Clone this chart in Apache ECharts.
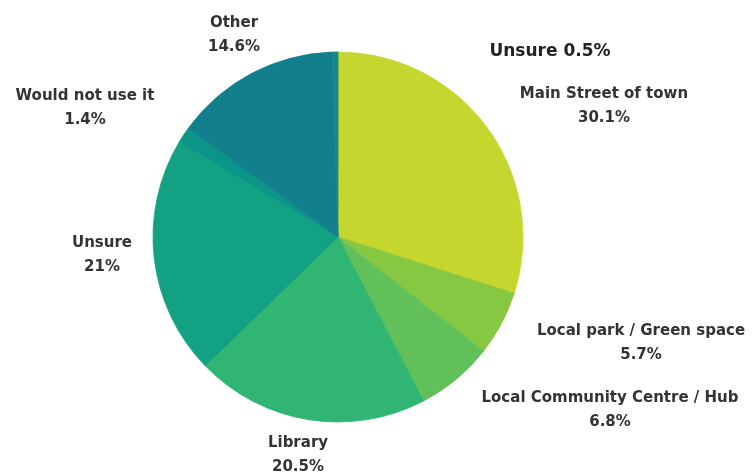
<!DOCTYPE html>
<html>
<head>
<meta charset="utf-8">
<style>
  html, body { margin: 0; padding: 0; background: #ffffff; }
  #chart { width: 752px; height: 475px; }
</style>
<script src="https://cdn.jsdelivr.net/npm/echarts@6/dist/echarts.min.js"></script>
</head>
<body>
<div id="chart"></div>
<script>
// Where people would use it – share of responses (%)
const categories = [
  'Main Street of town',
  'Local park / Green space',
  'Local Community Centre / Hub',
  'Library',
  'Unsure',
  'Would not use it',
  'Other',
  'Unsure'
];
const shares = [30.1, 5.7, 6.8, 20.5, 21, 1.4, 14.6, 0.5];

const sliceColors = [
  '#c5d62f', '#87c843', '#62c05b', '#30b573',
  '#12a182', '#0b9589', '#117f8c', '#15898b'
];

// label centres (px) for each slice, in slice order
const labelSpots = [
  [604, 106], [641, 343], [610, 410], [298, 455],
  [102, 255], [85, 108], [234, 35], [550, 52]
];

const chart = echarts.init(document.getElementById('chart'), null, { renderer: 'canvas' });

const data = categories.map((name, i) => {
  const item = {
    name: name,
    value: shares[i],
    // same-colour outline closes the hairline seams between wedges
    itemStyle: { color: sliceColors[i], borderColor: sliceColors[i], borderWidth: 0.8 }
  };
  if (i === categories.length - 1) {
    item.label = {
      formatter: '{b} {c}%',
      fontFamily: 'DejaVu Sans',
      fontWeight: 'bold',
      fontSize: 17,
      color: '#222222'
    };
  }
  return item;
});

chart.setOption({
  animation: false,
  series: [{
    type: 'pie',
    center: [338, 237],
    radius: 185,
    startAngle: 90,
    clockwise: true,
    data: data,
    label: {
      show: true,
      position: 'outside',
      alignTo: 'none',
      overflow: 'none',
      formatter: '{b}\n{c}%',
      fontFamily: 'DejaVu Sans',
      fontWeight: 'bold',
      fontSize: 15,
      lineHeight: 24,
      color: '#333333',
      align: 'center'
    },
    labelLine: { show: false },
    labelLayout: function (params) {
      const p = labelSpots[params.dataIndex];
      return { x: p[0], y: p[1], align: 'center', verticalAlign: 'middle' };
    },
    emphasis: { disabled: true }
  }]
});
</script>
</body>
</html>
